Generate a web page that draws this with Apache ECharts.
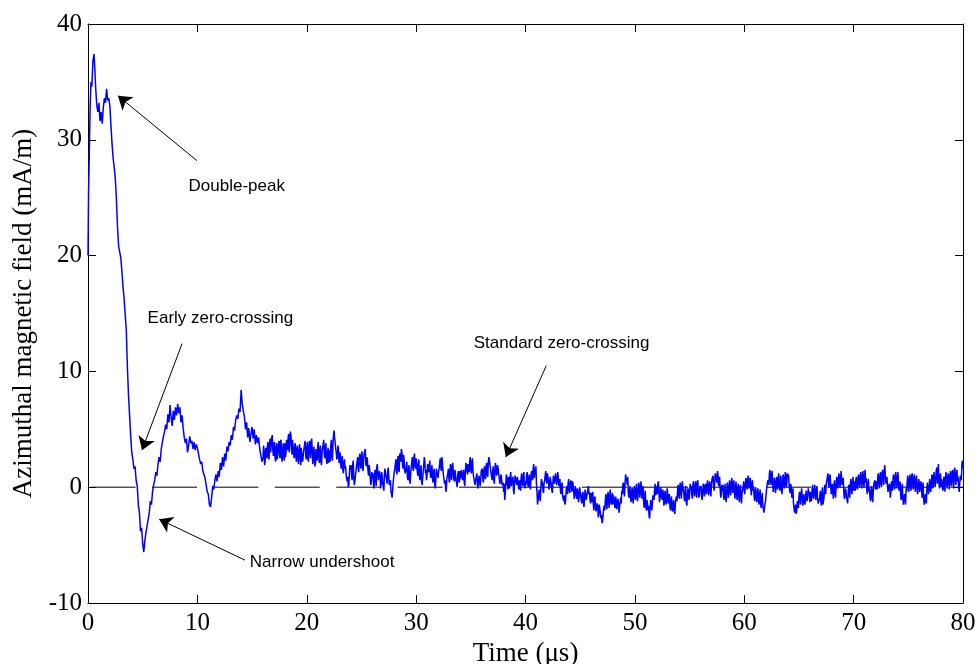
<!DOCTYPE html>
<html><head><meta charset="utf-8">
<script src="https://cdn.jsdelivr.net/npm/echarts/dist/echarts.min.js"></script>
<style>html,body{margin:0;padding:0;background:#fff}#c{width:978px;height:664px}</style>
</head><body><div id="c"></div>
<script>
// ---- data ----
const xTickValues = [0, 10, 20, 30, 40, 50, 60, 70, 80];
const yTickValues = [-10, 0, 10, 20, 30, 40];
const xAxisName = 'Time (\u03bcs)';
const yAxisName = 'Azimuthal magnetic field (mA/m)';

// first microseconds, irregular samples (μs, mA/m)
const earlyTime = [0, 0.05, 0.1, 0.15, 0.2, 0.27, 0.35, 0.45, 0.55, 0.62, 0.7, 0.8, 0.9, 1.0, 1.1, 1.2, 1.3, 1.4, 1.5, 1.6, 1.7, 1.8, 1.9, 2.0, 2.1, 2.2, 2.3, 2.4, 2.5, 2.6, 2.7, 2.8, 2.9, 3.0, 3.1, 3.2, 3.3, 3.4, 3.5, 3.6, 3.7, 3.8, 3.9];
const earlyField = [20.0, 25.5, 27.8, 30.5, 33.0, 35.0, 34.6, 36.8, 37.4, 36.2, 34.5, 33.0, 32.4, 33.2, 31.6, 32.4, 31.4, 32.8, 33.6, 33.2, 34.4, 33.4, 33.6, 32.9, 31.2, 29.6, 28.4, 27.6, 26.6, 24.8, 22.4, 20.8, 20.3, 19.8, 18.6, 17.3, 16.3, 14.9, 13.6, 10.4, 8.0, 6.2, 4.5];

// from 4.0 μs to 80.0 μs every 0.1 μs (mA/m)
const sampledStart = 4.0;
const sampledStep = 0.1;
const sampledField = [
3.0,2.4,1.6,1.8,0.6,0.1,-1.5,-2.2,-3.8,-3.5,-4.9,-5.6,-4.6,-3.9,-4.0,-2.8,-2.2,-1.2,-1.5,-0.4,0.2,
0.6,1.3,1.0,2.0,2.6,2.2,3.3,3.9,4.4,4.8,5.4,5.0,6.3,5.6,7.1,6.0,5.3,6.6,5.8,6.9,
6.2,7.2,6.4,6.9,5.6,6.2,5.1,4.3,3.8,4.2,3.0,3.6,4.4,3.8,4.0,3.3,3.9,3.2,3.7,3.4,
2.9,2.4,2.0,2.2,1.4,1.1,0.8,0.2,-0.4,-0.6,-1.5,-1.7,-0.9,0.1,-0.2,0.6,1.1,0.5,1.4,0.9,
2.1,1.5,2.6,1.8,2.9,2.3,3.5,3.1,3.9,3.6,4.5,4.1,5.2,4.9,5.8,6.2,5.9,6.8,6.5,8.4,
7.2,6.6,6.1,5.0,5.6,4.3,5.1,3.9,4.6,5.2,4.2,5.0,3.7,4.5,3.8,4.3,3.3,2.8,2.2,2.5,
3.1,2.3,2.9,3.5,2.6,3.8,3.0,4.3,3.2,3.7,2.6,3.4,2.4,3.6,2.8,3.9,2.5,3.3,2.6,3.8,
2.9,3.5,4.3,3.0,4.8,3.4,4.1,2.9,3.6,2.7,3.3,2.4,3.1,2.6,3.4,2.2,3.0,3.7,2.8,3.3,
2.5,3.6,2.9,3.9,3.2,2.4,3.0,2.1,2.7,3.5,2.6,3.2,2.2,3.0,3.7,2.9,3.4,2.3,2.9,2.1,
2.8,3.6,2.7,3.9,4.9,3.8,3.0,2.6,3.3,2.6,2.0,2.4,1.5,2.1,1.6,1.1,0.5,0.0,1.2,1.7,
1.0,1.9,0.8,0.5,1.4,2.2,1.6,2.5,2.1,2.7,1.8,2.4,2.8,2.0,2.6,1.4,1.9,0.9,0.4,0.8,
0.3,1.1,0.6,1.7,1.2,0.5,1.0,0.3,0.9,0.2,1.1,1.6,0.7,1.4,0.8,0.1,-0.4,-0.9,0.4,1.3,
2.0,1.4,2.3,1.5,2.9,2.2,3.0,1.6,2.4,1.2,1.8,0.9,1.5,0.6,1.2,2.2,1.7,2.6,1.9,2.5,
1.4,2.0,0.9,1.5,0.5,0.8,1.3,2.2,1.5,1.0,1.6,1.9,1.1,1.5,0.7,1.2,0.3,0.7,1.3,0.8,
1.6,2.5,1.4,2.2,1.0,0.3,-0.1,0.6,1.2,0.7,1.5,0.9,1.8,1.2,0.5,1.1,0.4,1.0,0.6,1.4,
0.8,1.6,1.0,0.4,1.3,1.9,1.1,1.7,2.3,1.5,2.1,1.4,0.8,0.2,0.9,0.3,0.6,1.1,0.5,1.3,
0.7,1.5,0.9,1.8,1.1,2.1,2.4,1.6,0.9,1.4,0.6,1.5,1.8,1.2,1.6,0.8,0.5,0.9,0.2,-0.4,
-1.1,0.3,0.8,-0.2,0.6,0.9,0.1,0.7,-0.3,0.4,0.9,0.2,0.6,-0.2,0.3,0.8,0.4,0.9,0.2,0.5,
1.0,0.4,0.7,0.2,0.9,1.1,1.6,0.8,1.5,0.3,-1.5,-0.6,-0.9,-0.1,0.5,-0.3,0.4,1.0,0.6,1.2,
0.5,0.1,0.6,-0.2,0.3,0.9,0.4,1.1,0.6,0.8,0.3,-0.4,0.2,-0.8,-1.2,-1.5,-0.6,-0.3,0.4,-0.2,
0.3,0.0,0.5,-0.3,-0.7,-0.2,-1.0,-0.5,-0.9,-0.4,-1.2,-0.6,-1.4,-0.9,-0.3,-0.8,-0.2,-0.6,-1.1,-0.5,
-0.9,-1.5,-1.0,-1.7,-2.2,-1.6,-2.4,-1.9,-2.7,-3.1,-2.3,-1.6,-1.1,-1.4,-0.8,-1.3,-0.7,-1.2,-0.9,-1.5,
-1.0,-1.8,-1.2,-2.0,-1.4,-1.7,-0.9,-0.3,0.2,-0.4,0.3,0.8,0.2,-0.5,-0.2,-0.9,-0.4,-1.0,-0.3,-0.7,
-0.2,-0.8,-0.3,0.1,-0.5,0.0,-0.6,-1.3,-0.8,-1.6,-1.1,-2.0,-2.5,-1.7,-1.0,-1.4,-0.6,-0.2,-0.7,0.1,
0.3,-0.4,-0.9,-0.3,-1.1,-0.6,-1.3,-0.7,-1.2,-0.5,-1.0,-1.6,-1.1,-1.9,-1.4,-2.0,-1.5,-0.8,-0.3,-0.6,
0.0,-0.5,0.1,-0.4,-0.9,-0.5,-1.3,-0.8,-0.3,-0.7,-0.1,-0.6,0.2,-0.3,0.1,-0.5,0.4,-0.2,-0.7,-0.3,
-0.8,-0.4,0.1,-0.5,-0.2,0.3,-0.3,0.2,-0.4,0.2,0.6,0.0,0.5,1.0,0.4,1.1,0.5,-0.2,-0.6,-0.3,
-0.7,-0.2,-0.9,-0.5,0.0,-0.4,0.3,-0.2,0.4,0.1,-0.5,0.0,-0.6,-0.2,-0.8,-0.3,-0.9,-0.5,0.1,-0.3,
0.2,0.6,0.1,0.7,0.3,-0.2,0.4,-0.3,-0.8,-0.4,-0.9,-0.5,-1.1,-0.6,-1.4,-0.9,-1.6,-2.2,-1.4,-0.6,
0.0,0.5,1.2,0.6,1.1,0.4,0.0,0.5,-0.1,0.4,0.8,0.2,0.6,-0.2,0.3,0.8,0.2,1.0,0.5,0.9,
0.2,-0.5,-0.1,-0.8,-1.4,-2.2,-1.5,-2.0,-1.3,-0.8,-1.2,-0.5,-0.9,-1.3,-0.7,-1.1,-0.4,-0.8,-0.4,-1.3,
-0.8,-0.3,-0.7,-0.2,-0.6,-0.3,-0.9,-1.5,-0.9,-1.2,-0.6,-1.5,-0.8,-0.2,0.3,0.9,0.3,0.9,0.2,-0.3,
-0.5,0.1,-0.5,0.2,0.7,0.3,0.9,0.4,0.9,0.2,-0.4,-0.8,-0.3,-1.1,-0.6,-0.2,0.3,-0.2,0.4,-0.3,
0.2,0.6,0.1,0.7,0.3,0.9,0.5,1.0,0.4,1.0,0.4,-0.2,0.3,-0.4,-0.9,-0.4,-0.9,-0.3,0.2,-0.2,
0.3,0.8,0.3,0.9,0.4,1.1,0.6,1.5,1.0,0.4,0.0,-0.5,0.1,-0.5,0.2,0.7,0.2,0.9,0.4,0.9,
0.3,-0.2,-0.7,-0.2,-1.0,-1.4,-0.7,-0.1,0.5,0.1,0.6,0.2,0.9,0.3,0.7,0.1,0.6,0.0,-0.1,0.4,
-0.3,0.2,-0.5,-1.0,-1.3,-0.6,-0.1,0.4,-0.2,0.6,0.2,0.9,0.4,1.2,0.7,1.7,1.1,0.4,0.8,0.0,
0.4,-0.1,0.5,0.9,0.3,0.8,0.4,0.9,0.5,1.2,0.6,1.3,0.7,1.2,0.5,0.0,0.3,1.1,2.0,1.6
];

// in-between samples of the noisy tail, from 16.05 μs to 79.95 μs every 0.1 μs (mA/m)
const tailMidStart = 16.05;
const tailMidStep = 0.1;
const tailMidField = [
3.6,1.9,3.4,2.5,3.9,2.4,4.2,3.0,4.5,2.7,3.9,2.2,3.8,2.3,4.0,2.5,4.1,2.2,3.8,2.3,
2.6,4.1,3.2,4.6,2.9,4.5,2.8,4.0,2.5,3.8,2.2,3.6,2.0,3.7,1.9,3.5,2.4,3.1,4.0,2.4,
3.9,2.2,4.0,2.5,4.2,2.0,3.5,1.8,3.3,2.3,3.9,2.1,3.6,1.9,3.4,4.1,2.5,3.8,2.0,3.4,
3.2,2.2,4.1,2.3,4.5,4.2,3.3,2.4,3.6,2.1,3.0,1.6,2.7,1.2,2.4,1.8,0.7,0.9,0.2,1.9,
1.9,0.6,2.3,0.2,1.0,1.8,2.6,1.3,2.9,1.6,3.1,1.4,2.9,3.3,1.8,2.3,1.0,1.6,0.2,1.3,
1.2,-0.1,1.5,0.1,2.0,0.6,1.4,-0.1,1.3,0.3,-0.3,1.6,0.9,0.3,1.7,0.2,0.6,-0.6,-0.3,0.9,
1.6,2.4,1.1,2.7,1.3,2.5,3.3,2.0,2.8,1.5,1.1,2.2,0.6,1.9,0.3,1.7,2.6,1.4,2.9,1.6,
2.0,1.0,2.4,0.6,1.9,0.2,1.4,2.6,1.2,0.6,2.0,1.3,2.3,0.8,1.9,0.4,1.6,-0.1,1.6,1.3,
1.3,2.0,1.8,2.6,1.5,0.7,0.6,-0.4,1.0,1.6,0.4,2.0,0.6,2.1,0.7,1.5,0.6,0.0,1.4,0.4,
0.7,1.5,0.6,1.5,0.1,2.1,1.4,2.0,1.3,2.6,1.2,2.5,0.9,0.4,0.7,1.2,-0.1,1.0,0.1,1.4,
1.6,0.4,1.8,0.7,2.1,0.9,2.6,1.9,1.2,0.6,1.8,0.3,2.1,1.0,1.9,1.1,0.3,1.1,0.2,0.4,
0.3,-0.5,1.1,0.2,0.9,-0.1,1.3,0.4,0.9,-0.6,1.0,0.4,0.9,0.1,0.6,-0.3,1.2,0.1,1.3,-0.1,
0.2,1.3,0.0,1.1,-0.2,1.4,0.6,2.0,1.2,1.8,-0.4,-1.1,-0.2,-1.2,0.7,0.3,-0.5,0.6,1.4,0.3,
0.9,-0.2,0.9,0.3,-0.5,1.0,0.3,1.2,0.2,1.3,0.1,0.7,-0.6,0.4,-0.9,-0.7,-1.3,0.1,-0.6,0.7,
-0.5,0.6,-0.4,0.3,-1.0,0.1,-0.8,-0.1,-1.3,0.0,-0.7,-1.4,-0.4,-1.7,-0.2,-1.1,-0.9,0.1,-0.4,-1.4,
-1.3,-0.4,-2.0,-0.8,-2.1,-1.4,-2.6,-1.5,-2.2,-2.4,-2.9,-1.8,-2.0,-0.6,-1.9,-0.4,-1.8,-0.2,-1.5,-0.5,
-0.7,-1.6,-0.8,-1.9,-1.0,-2.2,-1.3,-1.4,-0.6,0.4,-0.8,1.1,0.6,0.9,-0.9,0.1,-1.3,0.0,-1.4,0.1,
-1.1,0.3,-1.2,0.4,-0.9,0.5,-1.0,0.1,-1.8,-0.3,-2.0,-1.4,-1.6,-2.7,-1.1,-2.0,-0.7,-1.1,0.3,-0.8,
-0.6,0.5,-1.3,0.0,-0.9,-0.2,-1.6,-0.3,-1.5,-0.1,-1.4,-0.6,-2.0,-0.8,-2.1,-1.1,-2.3,-1.0,-1.2,0.2,
-1.0,0.4,-1.0,0.5,-0.1,-1.2,0.1,-1.6,-0.1,-1.1,0.3,0.1,-1.0,0.5,-0.8,0.5,-0.9,0.6,-0.9,0.1,
0.1,-1.1,0.3,-0.8,0.3,-0.6,0.6,-0.7,0.5,-0.8,0.7,1.0,-0.3,1.2,0.6,1.4,0.1,0.9,-0.9,0.2,
0.2,-1.1,0.3,-1.3,0.4,-0.9,0.6,-0.7,0.8,-0.5,0.6,-1.0,0.5,-1.1,0.3,-1.3,0.2,-1.4,-0.2,0.5,
-0.6,0.8,-0.2,1.0,-0.1,0.8,-0.7,0.6,0.1,-1.2,0.0,-1.3,-0.1,-1.5,-0.2,-1.8,-0.5,-1.9,-1.8,-1.2,
-0.1,0.6,0.2,1.5,0.2,1.4,-0.4,0.8,-0.5,0.9,-0.2,1.2,-0.3,1.0,-0.6,1.1,-0.1,1.3,0.0,1.2,
1.1,-0.3,0.3,-0.9,-0.1,-1.8,-1.7,-2.3,-1.2,-1.8,-0.4,-1.5,-0.1,-1.6,-0.6,-1.5,-0.3,-1.2,-0.1,-0.6,
-0.4,-1.2,0.2,-1.0,0.2,-1.1,0.1,-1.4,-1.1,-0.3,-1.6,0.0,-1.6,0.2,-0.6,0.6,1.2,0.0,1.1,-0.6,
0.3,-1.0,0.6,-0.9,0.9,-0.1,1.2,0.0,1.4,0.2,0.8,-1.0,-0.1,-0.9,-1.4,0.2,-0.9,0.7,-0.6,0.9,
0.5,-0.3,0.9,-0.2,1.1,0.0,1.3,-0.1,1.4,0.0,1.5,0.8,-0.6,0.7,-0.1,-1.2,0.1,-1.3,0.3,0.6,
0.5,-0.2,1.2,-0.1,1.3,0.0,1.5,0.2,1.9,0.3,0.9,-0.4,0.3,-0.9,0.5,-0.3,1.1,-0.2,1.3,-0.1,
1.3,-0.3,0.5,-1.1,0.3,-1.5,-0.6,-1.5,-0.4,1.0,-0.4,1.1,-0.3,1.2,-0.2,1.1,-0.4,1.0,-0.6,0.7,
-0.4,0.5,-0.9,0.4,-1.5,-0.6,-1.4,0.4,-0.6,0.7,-0.4,1.1,-0.1,1.3,0.0,1.4,0.3,2.0,-0.1,1.2,
0.7,-0.3,0.9,-0.4,1.3,-0.1,1.2,-0.2,1.4,0.1,1.5,-0.1,1.7,0.2,1.5,0.9,-0.4,1.0,0.6,2.3
];

// annotations: label, label position, arrow tail, arrow head (data coordinates)
const annotationLabels = ['Double-peak', 'Early zero-crossing', 'Narrow undershoot', 'Standard zero-crossing'];
const annotationLabelAt = [[13.6, 26.0], [12.1, 14.6], [21.4, -6.5], [43.3, 12.45]];
const arrowTail = [[9.96, 28.2], [8.6, 12.4], [14.35, -6.3], [41.9, 10.5]];
const arrowHead = [[2.74, 33.8], [4.94, 3.2], [6.5, -2.76], [38.2, 2.6]];

// ---- build ----
const fieldSeries = [];
earlyTime.forEach((t, i) => fieldSeries.push([t, earlyField[i]]));
sampledField.forEach((v, i) => fieldSeries.push([+(sampledStart + i * sampledStep).toFixed(2), v]));
tailMidField.forEach((v, i) => fieldSeries.push([+(tailMidStart + i * tailMidStep).toFixed(2), v]));
fieldSeries.sort((a, b) => a[0] - b[0]);

const serif = "'Liberation Serif','Times New Roman',serif";
const sans = "'Liberation Sans',Arial,sans-serif";
const chart = echarts.init(document.getElementById('c'), null, {renderer: 'canvas'});

const baseAxis = {
  axisLine: {show: true, onZero: false, lineStyle: {color: '#000', width: 1}},
  axisTick: {show: true, inside: true, length: 8, lineStyle: {color: '#000', width: 1}},
  splitLine: {show: false}
};

chart.setOption({
  animation: false,
  backgroundColor: '#fff',
  grid: {left: 88, right: 15, top: 24, bottom: 61, containLabel: false, outerBoundsMode: 'none'},
  xAxis: [
    Object.assign({}, baseAxis, {
      type: 'value', min: xTickValues[0], max: xTickValues[xTickValues.length - 1], interval: 10,
      position: 'bottom',
      name: xAxisName, nameLocation: 'middle', nameGap: 37,
      nameTextStyle: {fontFamily: serif, fontSize: 27, color: '#000'},
      axisLabel: {show: true, margin: 8, fontFamily: serif, fontSize: 25, color: '#000', showMinLabel: true, showMaxLabel: true}
    }),
    Object.assign({}, baseAxis, {
      type: 'value', min: xTickValues[0], max: xTickValues[xTickValues.length - 1], interval: 10,
      position: 'top', axisLabel: {show: false}
    })
  ],
  yAxis: [
    Object.assign({}, baseAxis, {
      type: 'value', min: yTickValues[0], max: yTickValues[yTickValues.length - 1], interval: 10,
      position: 'left',
      name: yAxisName, nameLocation: 'middle', nameGap: 44,
      nameTextStyle: {fontFamily: serif, fontSize: 27, color: '#000'},
      axisLabel: {show: true, margin: 6, fontFamily: serif, fontSize: 25, color: '#000', showMinLabel: true, showMaxLabel: true}
    }),
    Object.assign({}, baseAxis, {
      type: 'value', min: yTickValues[0], max: yTickValues[yTickValues.length - 1], interval: 10,
      position: 'right', axisLabel: {show: false}
    })
  ],
  series: [
    {
      type: 'line', name: 'zero', silent: true, symbol: 'none', z: 1,
      data: [[xTickValues[0], 0], [xTickValues[xTickValues.length - 1], 0]],
      lineStyle: {color: '#000', width: 1, type: [45, 16.4], dashOffset: 58.8},
      markLine: {
        silent: true, animation: false,
        symbol: ['none', 'arrow'], symbolSize: 13,
        itemStyle: {color: '#000'},
        lineStyle: {color: '#000', width: 1, type: 'solid'},
        label: {show: false},
        data: arrowTail.map((p, i) => [{coord: p}, {coord: arrowHead[i]}])
      }
    },
    {
      type: 'line', name: 'field', symbol: 'none', showSymbol: false, z: 2,
      data: fieldSeries,
      lineStyle: {color: '#0000ff', width: 1.5}
    }
  ]
});

chart.setOption({
  graphic: annotationLabels.map((txt, i) => {
    const p = chart.convertToPixel({xAxisIndex: 0, yAxisIndex: 0}, annotationLabelAt[i]);
    return {
      type: 'text', x: p[0], y: p[1], z: 100,
      style: {text: txt, fill: '#000', font: '17px ' + sans, textAlign: 'center', textVerticalAlign: 'middle'}
    };
  })
});
</script></body></html>
